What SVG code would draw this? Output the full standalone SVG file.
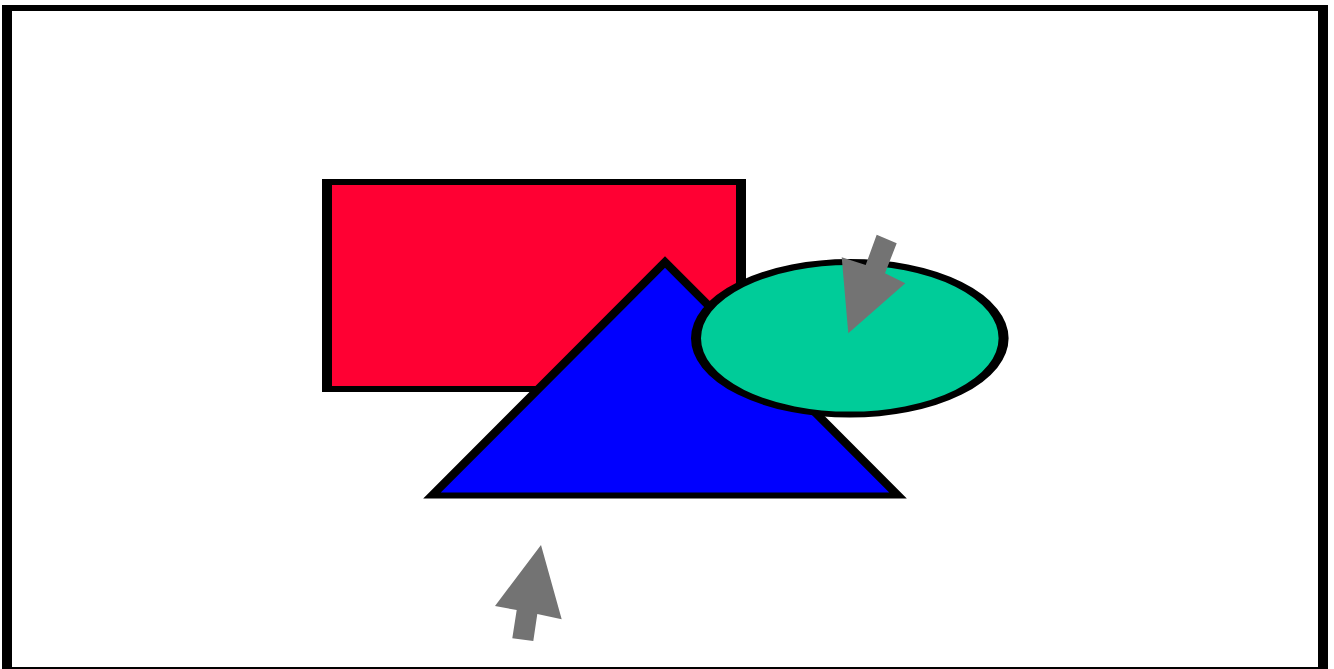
<svg xmlns="http://www.w3.org/2000/svg" width="1334" height="669" viewBox="0 0 1334 669">
<style>
.shape{stroke:#000;stroke-width:2;stroke-miterlimit:10}
.arrow{fill:#737373;stroke:none}
</style>
<rect width="1334" height="669" fill="#fff"/>
<g transform="scale(5,3)">
<g id="frame"><rect class="shape" x="1.4" y="2.667" width="263.2" height="220.67" fill="none"/></g>
<g id="rectangle"><rect class="shape" x="65.4" y="60.667" width="82.8" height="69" fill="#FF0033"/></g>
<g id="triangle"><polygon class="shape" points="86.4,165.17 133,87.33 179.6,165.17" fill="#0000FF"/></g>
<g id="ellipse"><ellipse class="shape" cx="169.96" cy="112.77" rx="30.76" ry="25.43" fill="#00CC99"/></g>
</g>
<g id="connectors">
<polygon class="arrow" points="876.7,234.7 896.7,243.3 885,273.3 905.3,283.3 848.3,333.3 841.7,257.3 865.7,265"/>
<polygon class="arrow" points="541,545 561.7,619.3 537.3,614 533.3,641 512.3,638.3 516.7,610 495,606"/>
</g>
</svg>
